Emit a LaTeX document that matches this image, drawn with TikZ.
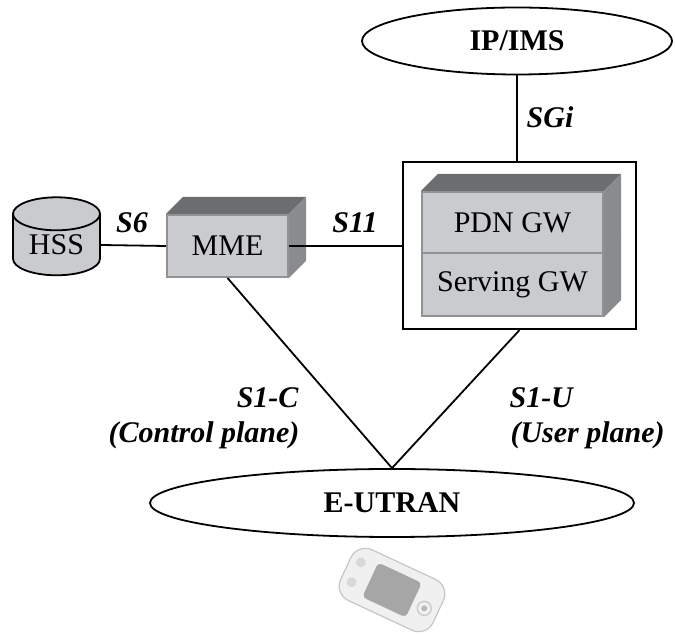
\documentclass[tikz,border=0pt]{standalone}
\usepackage{fontspec}
\setmainfont{Liberation Serif}
\usetikzlibrary{shapes.geometric, calc}

\definecolor{facegray}{RGB}{201,203,206}
\definecolor{topgray}{RGB}{108,109,111}
\definecolor{sidegray}{RGB}{138,139,142}
\definecolor{rimgray}{RGB}{145,146,148}

% shaded faces behind a front node
\newcommand{\topface}[1]{%
  \fill[topgray] (#1.north west) -- ++(17,-17) -- ($(#1.north east)+(17,-17)$) -- (#1.north east) -- cycle;}
\newcommand{\sideface}[1]{%
  \fill[sidegray] (#1.north east) -- ++(17,-17) -- ($(#1.south east)+(17,-17)$) -- (#1.south east) -- cycle;}

\begin{document}
\begin{tikzpicture}[x=0.5pt, y=-0.5pt, line width=0.9pt,
    every node/.style={font=\fontsize{15}{18}\selectfont},
    front/.style={rectangle, fill=facegray, draw=rimgray, line width=1pt, inner sep=0pt},
    cloud/.style={ellipse, draw, inner sep=0pt, font=\fontsize{15}{18}\selectfont\bfseries},
    iface/.style={font=\fontsize{15}{18}\selectfont\bfseries\itshape}]
    \useasboundingbox (0,0) rectangle (675,635);

    % networks
    \node[cloud, minimum width=155pt, minimum height=33.5pt] (ipims) at (517,41) {IP/IMS};
    \node[cloud, minimum width=242pt, minimum height=34pt] (eutran) at (392,503) {E-UTRAN};

    % gateways
    \node[draw, line width=1.1pt, minimum width=116.5pt, minimum height=83.5pt] (frame) at (519.5,245.5) {};
    \node[front, minimum width=90.5pt, minimum height=30.5pt] (pdn) at (512.5,222.5) {PDN GW};
    \node[front, minimum width=90.5pt, minimum height=31.5pt] (sgw) at (512.5,284.5) {Serving GW};
    \topface{pdn}
    \sideface{pdn}
    \sideface{sgw}

    % MME and HSS
    \node[front, minimum width=60.5pt, minimum height=31pt] (mme) at (227.5,246) {MME};
    \topface{mme}
    \sideface{mme}
    \node[cylinder, shape border rotate=90, aspect=0.6, draw, fill=facegray,
        minimum width=43.5pt, minimum height=39pt, inner sep=0pt] (hss) at (56.5,245) {HSS};

    % interfaces
    \draw (hss.east) -- (mme.west);
    \draw (mme.east) -- (mme.east -| frame.west);
    \draw (ipims.south) -- (ipims.south |- frame.north);
    \draw (mme.south) -- (eutran.north);
    \draw (frame.south) -- (eutran.north);

    \node[iface] (s6) at (132,223) {S6};
    \node[iface] (s11) at (355,223) {S11};
    \node[iface] (sgi) at (550,117) {SGi};
    \node[iface, anchor=base east] (s1c) at (306,408) {S1-C};
    \node[iface, anchor=base east] (cplane) at (307,443) {(Control plane)};
    \node[iface, anchor=base west] (s1u) at (502,408) {S1-U};
    \node[iface, anchor=base west] (uplane) at (503,443) {(User plane)};

    % handset
    \begin{scope}[shift={(392,590)}, rotate=-25]
        \fill[gray!12, draw=gray!45, line width=0.6pt, rounded corners=8pt] (-51,-28) rectangle (51,28);
        \fill[gray!70, rounded corners=2pt] (-24,-19) rectangle (24,19);
        \fill[gray!30] (-40,-12) circle (5);
        \fill[gray!30] (-40,10) circle (5);
        \draw[gray!45, line width=0.6pt] (37,3) circle (7);
        \fill[gray!55] (37,3) circle (3);
    \end{scope}
\end{tikzpicture}
\end{document}
